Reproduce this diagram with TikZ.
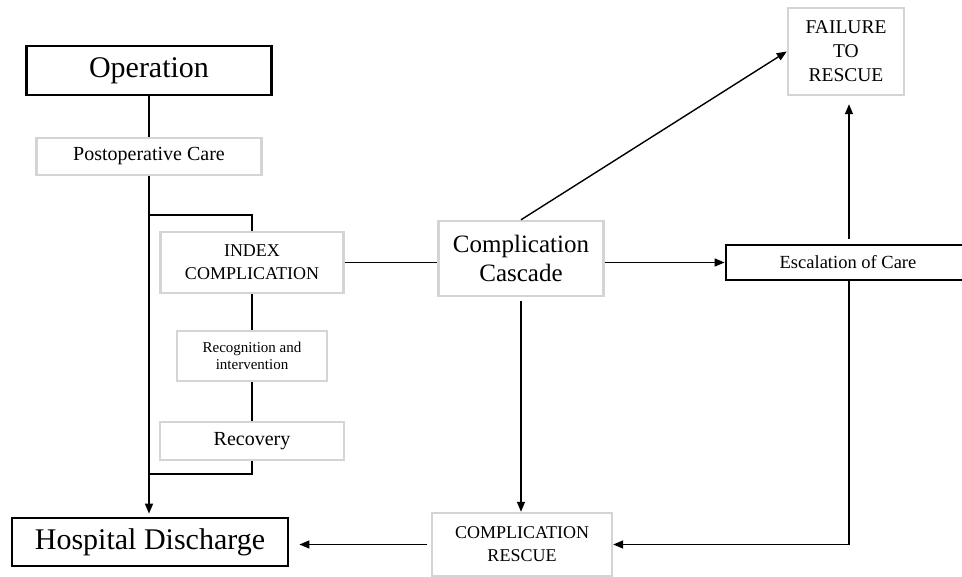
\documentclass[tikz,border=0pt]{standalone}
\usepackage{fontspec}
\setmainfont{Liberation Serif}
\usetikzlibrary{arrows.meta}
\begin{document}
\begin{tikzpicture}[x=1pt,y=-1pt,
  thickbox/.style={draw=black,line width=2.8pt,inner sep=0pt,align=center,fill=white},
  lightbox/.style={draw=black!17,line width=2.4pt,fill=white,inner sep=0pt,align=center},
  conn/.style={line width=1.4pt},
  arr/.style={conn,-{Triangle[length=10pt,width=8pt]}},
  ]
\useasboundingbox[fill=white] (0,0) rectangle (962,577);
% nodes
\node[thickbox,minimum width=245pt,minimum height=49pt,font=\fontsize{30}{34}\selectfont] (op) at (149,70.5) {Operation};
\node[lightbox,minimum width=225pt,minimum height=37pt,font=\fontsize{20}{23}\selectfont] (post) at (149,156.5) {Postoperative Care};
\node[lightbox,minimum width=183pt,minimum height=61pt,font=\fontsize{18}{23}\selectfont] (index) at (252,262.5) {INDEX\\COMPLICATION};
\node[lightbox,minimum width=150pt,minimum height=50pt,font=\fontsize{15}{17.5}\selectfont] (recog) at (252,356) {Recognition and\\intervention};
\node[lightbox,minimum width=184pt,minimum height=38pt,font=\fontsize{20}{23}\selectfont] (recov) at (252,441) {Recovery};
\node[thickbox,minimum width=276pt,minimum height=48pt,font=\fontsize{30}{34}\selectfont] (disch) at (150,542) {Hospital Discharge};
\node[lightbox,minimum width=165pt,minimum height=75pt,font=\fontsize{25}{29}\selectfont] (casc) at (521,258.5) {Complication\\Cascade};
\node[thickbox,minimum width=244pt,minimum height=35pt,font=\fontsize{18.5}{22}\selectfont] (esc) at (848,262.5) {Escalation of Care};
\node[lightbox,minimum width=116pt,minimum height=87pt,font=\fontsize{19.5}{24}\selectfont] (fail) at (846,51.5) {FAILURE\\TO\\RESCUE};
\node[lightbox,minimum width=180pt,minimum height=63pt,font=\fontsize{18}{23}\selectfont] (resc) at (522,544.5) {COMPLICATION\\RESCUE};
% helper coordinates
\coordinate (br) at (149,215);
\coordinate (brr) at (252,215);
\coordinate (ret) at (252,474);
\coordinate (retl) at (149,474);
\coordinate (corner) at (849,544.5);
% connectors
\draw[conn] (op.south) -- (post.north);
\draw[arr,shorten >=3pt] (post.south -| op.south) -- (disch.north -| op.south);
\draw[conn] (br) -- (brr) -- (index.north);
\draw[conn] (index.south) -- (recog.north);
\draw[conn] (recog.south) -- (recov.north);
\draw[conn] (recov.south) -- (ret) -- (retl);
\draw[conn] (index.east) -- (index.east -| casc.west);
\draw[arr] (casc.east |- esc.west) -- (esc.west);
\draw[arr] (casc.north) -- (fail.west);
\draw[arr,shorten <=5pt,shorten >=8pt] (esc.north -| corner) -- (fail.south -| corner);
\draw[arr] (esc.south -| corner) -- (corner) -- (resc.east);
\draw[arr,shorten <=4pt] (casc.south) -- (casc.south |- resc.north);
\draw[arr,shorten <=4pt,shorten >=10pt] (resc.west) -- (resc.west -| disch.east);
\end{tikzpicture}
\end{document}
